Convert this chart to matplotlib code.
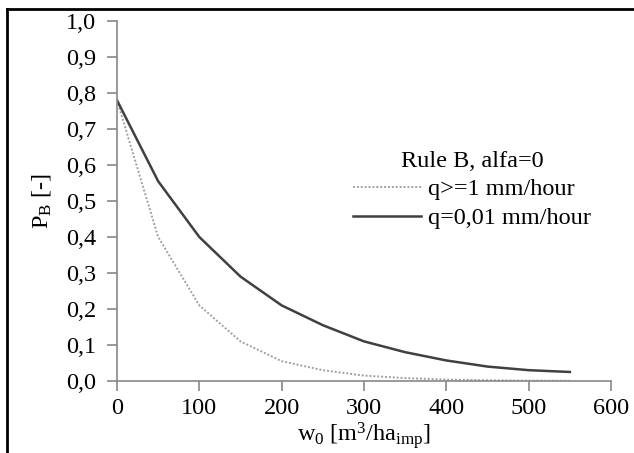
import matplotlib.pyplot as plt
from matplotlib.ticker import FuncFormatter, MultipleLocator
from matplotlib.lines import Line2D

# Дані
w0 = [0, 50, 100, 150, 200, 250, 300, 350, 400, 450, 500, 550]
p_q1 = [0.78, 0.40, 0.21, 0.11, 0.055, 0.03, 0.015, 0.008, 0.004, 0.002, 0.001, 0.0005]
p_q001 = [0.78, 0.555, 0.40, 0.29, 0.21, 0.155, 0.11, 0.08, 0.057, 0.04, 0.03, 0.025]

legend_title = "Rule B, alfa=0"
label_q1 = "q>=1 mm/hour"
label_q001 = "q=0,01 mm/hour"

plt.rcParams['font.family'] = ['Liberation Serif', 'DejaVu Serif']
plt.rcParams['mathtext.fontset'] = 'custom'
plt.rcParams['mathtext.rm'] = 'Liberation Serif'
plt.rcParams['mathtext.it'] = 'Liberation Serif:italic'

fs = 17.5

fig = plt.figure(figsize=(6.34, 4.53), dpi=100)
ax = fig.add_axes([0.1845, 0.159, 0.7792, 0.7946])

ax.plot(w0, p_q1, color='#a0a0a0', linestyle=(0, (1, 1)), linewidth=1.4, label=label_q1)
ax.plot(w0, p_q001, color='#404040', linestyle='-', linewidth=1.8, label=label_q001)

ax.set_xlim(0, 600)
ax.set_ylim(0, 1.0)
ax.xaxis.set_major_locator(MultipleLocator(100))
ax.yaxis.set_major_locator(MultipleLocator(0.1))
ax.yaxis.set_major_formatter(FuncFormatter(lambda v, p: f"{v:.1f}".replace('.', ',')))

for side in ['top', 'right']:
    ax.spines[side].set_visible(False)
for side in ['left', 'bottom']:
    ax.spines[side].set_color('#888888')
    ax.spines[side].set_linewidth(1.2)
ax.tick_params(direction='out', length=7, width=1.2, color='#888888',
               labelsize=fs, labelcolor='black', pad=5)
ax.tick_params(axis='y', pad=8)

ax.set_xlabel(r"w$_\mathrm{0}$ [m$^\mathrm{3}$/ha$_\mathrm{imp}$]", fontsize=fs, labelpad=1)
ax.set_ylabel(r"P$_\mathrm{B}$ [-]", fontsize=fs, labelpad=9)

leg = ax.legend(title=legend_title, frameon=False, fontsize=fs, title_fontsize=fs,
                handlelength=2.8, handletextpad=0.3, labelspacing=0.28,
                borderpad=0, borderaxespad=0,
                loc='upper left', bbox_to_anchor=(0.478, 0.64))

# Чорна рамка зліва та зверху
fig.add_artist(Line2D([0.011, 0.011], [0, 0.98], transform=fig.transFigure, color='black', linewidth=2))
fig.add_artist(Line2D([0.011, 1.0], [0.98, 0.98], transform=fig.transFigure, color='black', linewidth=2))

plt.savefig("out.png", dpi=100)
